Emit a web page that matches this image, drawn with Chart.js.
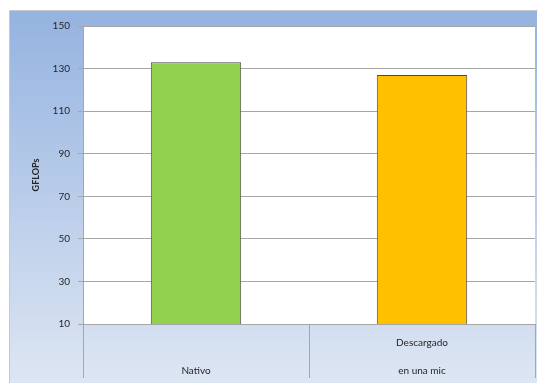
<!DOCTYPE html>
<html>
<head>
<meta charset="utf-8">
<script src="https://cdn.jsdelivr.net/npm/chart.js@4"></script>
<style>
  html, body { margin: 0; padding: 0; background: #fff; }
  #wrap { width: 541px; height: 383px; position: relative; }
</style>
</head>
<body>
<div id="wrap"><canvas id="gflops" width="541" height="383"></canvas></div>
<script>
// data
const categories = [['', 'Nativo'], ['Descargado', 'en una mic']]
const gflops = [133, 127]
const barColors = ['#92d050', '#ffc000']
const yTicks = { min: 10, max: 150, step: 20 }

// blue gradient panel behind the plot, white plot area on top
const panelBackground = {
    id: 'panelBackground',
    beforeDraw(chart) {
        const ctx = chart.ctx
        const area = chart.chartArea
        ctx.save()
        const g = ctx.createLinearGradient(0, 11, 0, 383)
        g.addColorStop(0, '#95b3e0')
        g.addColorStop(1, '#dde6f3')
        ctx.fillStyle = g
        ctx.fillRect(9, 11, 528, 372)
        ctx.strokeStyle = '#c8c8c8'
        ctx.lineWidth = 1
        ctx.beginPath()
        ctx.moveTo(9.5, 383)
        ctx.lineTo(9.5, 10.5)
        ctx.lineTo(537.5, 10.5)
        ctx.stroke()
        ctx.fillStyle = '#ffffff'
        ctx.fillRect(area.left, area.top, area.right - area.left, area.bottom - area.top)
        ctx.restore()
    }
}

const chart = new Chart(document.getElementById('gflops'), {
    type: 'bar',
    data: {
        labels: categories,
        datasets: [{
            label: 'GFLOPs',
            data: gflops,
            backgroundColor: barColors,
            borderColor: '#4a4a4a',
            borderWidth: 1,
            barPercentage: 0.4,
            categoryPercentage: 1
        }]
    },
    options: {
        responsive: false,
        animation: false,
        devicePixelRatio: 1,
        layout: { padding: { left: 9, top: 26, right: 6, bottom: 0 } },
        plugins: {
            legend: { display: false },
            tooltip: { enabled: false }
        },
        scales: {
            x: {
                grid: {
                    offset: true,
                    drawOnChartArea: false,
                    tickLength: 54,
                    color: '#a6a6a6',
                    lineWidth: 1
                },
                border: { display: false },
                ticks: {
                    padding: -49,
                    color: '#262626',
                    font: { family: 'Lato', size: 10, lineHeight: 2.8 }
                },
                afterFit(scale) { scale.height = 59 }
            },
            y: {
                min: yTicks.min,
                max: yTicks.max,
                grid: {
                    color: '#a6a6a6',
                    lineWidth: 1,
                    tickLength: 5
                },
                border: { color: '#a6a6a6' },
                ticks: {
                    stepSize: yTicks.step,
                    padding: 8,
                    color: '#262626',
                    font: { family: 'Lato', size: 10 }
                },
                title: {
                    display: true,
                    text: 'GFLOPs',
                    color: '#262626',
                    padding: { top: 22, bottom: 0 },
                    font: { family: 'Lato', size: 9, weight: 'bold' }
                },
                afterFit(scale) { scale.width = 74 }
            }
        }
    },
    plugins: [panelBackground]
})
</script>
</body>
</html>
